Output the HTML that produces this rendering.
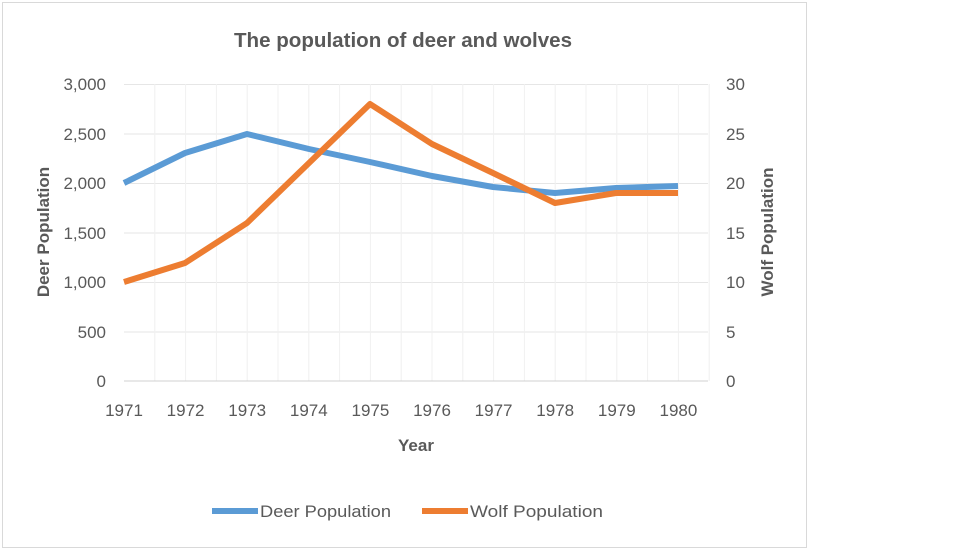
<!DOCTYPE html>
<html><head><style>
body{margin:0;background:#fff;}
svg{display:block;font-family:"Liberation Sans",sans-serif;}
</style></head><body>
<svg width="978" height="550" xmlns="http://www.w3.org/2000/svg">
<rect x="0" y="0" width="978" height="550" fill="#fff"/>
<rect x="2.5" y="2.5" width="804" height="545" fill="#fff" stroke="#d9d9d9" stroke-width="1"/>
<text x="403" y="47" text-anchor="middle" font-size="20" font-weight="bold" fill="#595959" textLength="338" lengthAdjust="spacingAndGlyphs">The population of deer and wolves</text>
<g stroke="#e6e6e6" stroke-width="1">
<line x1="124" y1="84.5" x2="708" y2="84.5"/><line x1="124" y1="134" x2="708" y2="134"/>
<line x1="124" y1="183.5" x2="708" y2="183.5"/><line x1="124" y1="233" x2="708" y2="233"/>
<line x1="124" y1="282.5" x2="708" y2="282.5"/><line x1="124" y1="332" x2="708" y2="332"/>
</g>
<g stroke="#f0f0f0" stroke-width="1" id="vg"></g>
<line x1="124" y1="381" x2="708" y2="381" stroke="#d0d0d0" stroke-width="1"/>
<g font-size="17" fill="#595959" text-anchor="end">
<text x="106" y="90">3,000</text><text x="106" y="140">2,500</text><text x="106" y="189">2,000</text>
<text x="106" y="239">1,500</text><text x="106" y="288">1,000</text><text x="106" y="338">500</text><text x="106" y="387">0</text>
</g>
<g font-size="17" fill="#595959" text-anchor="start">
<text x="726" y="90">30</text><text x="726" y="140">25</text><text x="726" y="189">20</text>
<text x="726" y="239">15</text><text x="726" y="288">10</text><text x="726" y="338">5</text><text x="726" y="387">0</text>
</g>
<g font-size="17" fill="#595959" text-anchor="middle" id="xl"></g>
<text x="416" y="451" text-anchor="middle" font-size="17" font-weight="bold" fill="#595959">Year</text>
<text transform="translate(49,232) rotate(-90)" text-anchor="middle" font-size="17" font-weight="bold" fill="#595959">Deer Population</text>
<text transform="translate(773,232) rotate(-90)" text-anchor="middle" font-size="17" font-weight="bold" fill="#595959">Wolf Population</text>
<polyline fill="none" stroke="#5b9bd5" stroke-width="6" stroke-linejoin="round" points="124,183 185,153 247,134 309,149 370,162 432,176 493,187 555,193 616,188 678,186"/>
<polyline fill="none" stroke="#ed7d31" stroke-width="6" stroke-linejoin="round" points="124,282 185,263 247,223 309,163 370,104 432,144 493,173 555,203 616,193 678,193"/>
<line x1="212" y1="511" x2="258" y2="511" stroke="#5b9bd5" stroke-width="6"/>
<text x="260" y="517" font-size="17" fill="#595959" textLength="131" lengthAdjust="spacingAndGlyphs">Deer Population</text>
<line x1="422" y1="511" x2="468" y2="511" stroke="#ed7d31" stroke-width="6"/>
<text x="470" y="517" font-size="17" fill="#595959" textLength="133" lengthAdjust="spacingAndGlyphs">Wolf Population</text>
</svg>
<script>
var vg=document.getElementById('vg'),xl=document.getElementById('xl'),ns="http://www.w3.org/2000/svg";
for(var i=1;i<20;i++){var x=124+i*30.8;var l=document.createElementNS(ns,'line');l.setAttribute('x1',x);l.setAttribute('x2',x);l.setAttribute('y1',84);l.setAttribute('y2',381);vg.appendChild(l);}
for(var j=0;j<10;j++){var t=document.createElementNS(ns,'text');t.setAttribute('x',124+j*61.6);t.setAttribute('y',416);t.textContent=1971+j;xl.appendChild(t);}
</script>
</body></html>
